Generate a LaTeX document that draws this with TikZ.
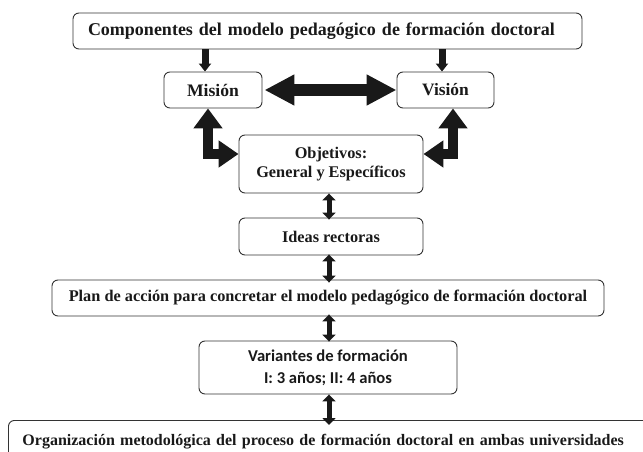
\documentclass[tikz,border=0pt]{standalone}
\usepackage{fontspec}
\setmainfont{Liberation Serif}
\newfontfamily\calibri{Carlito}
\usetikzlibrary{arrows.meta}
\begin{document}
\begin{tikzpicture}[x=1pt,y=-1pt,
  box/.style={draw=black!80, line width=0.9pt, rounded corners=6pt, align=center, inner sep=0pt,
    text=black!90, font=\fontsize{16.3}{19.5}\selectfont\bfseries},
  small/.style={line width=5pt, draw=black!90,
    {Triangle[length=7pt,width=13pt]}-{Triangle[length=7pt,width=13pt]}},
  down/.style={line width=7pt, draw=black!90, -{Triangle[length=8pt,width=12pt]}},
  big/.style={line width=12pt, draw=black!90,
    {Triangle[length=30pt,width=29pt]}-{Triangle[length=30pt,width=29pt]}},
  elbow/.style={line width=10pt, draw=black!90, miter limit=10,
    {Triangle[length=20pt,width=28pt]}-{Triangle[length=20pt,width=26pt]}}
]
\useasboundingbox (0,0) rectangle (643,452);

\node[box, minimum width=509pt, minimum height=36pt, text width=479pt, inner xsep=15pt, align=left,
  font=\fontsize{18}{22}\selectfont\bfseries] (top) at (327.5,31)
  {Componentes del modelo pedagógico de formación doctoral};
\node[box, minimum width=98pt, minimum height=36pt, font=\fontsize{17.6}{21}\selectfont\bfseries] (mision) at (213,90) {Misión};
\node[box, minimum width=97pt, minimum height=36pt, font=\fontsize{17.4}{21}\selectfont\bfseries] (vision) at (445.5,90) {Visión};
\node[box, minimum width=184pt, minimum height=58pt] (obj) at (331,164) {Objetivos:\\General y Específicos};
\node[box, minimum width=184pt, minimum height=37pt] (ideas) at (331,236.5) {Ideas rectoras};
\node[box, minimum width=552pt, minimum height=36pt] (plan) at (328,298)
  {Plan de acción para concretar el modelo pedagógico de formación doctoral};
\node[box, minimum width=258pt, minimum height=53pt, font=\fontsize{16.6}{22}\calibri\bfseries] (var) at (328,367.5)
  {Variantes de formación\\I: 3 años; II: 4 años};
\node[box, anchor=north west, text width=654pt, inner xsep=14pt, minimum height=43pt, align=left,
  font=\fontsize{16}{19.5}\selectfont\bfseries] (org) at (8,420)
  {Organización metodológica del proceso de formación doctoral en ambas universidades};

\coordinate (cl) at (205,0);
\coordinate (cr) at (442,0);
\coordinate (el) at (208,154);
\coordinate (er) at (453,154);
\coordinate (cm) at (329,0);

\draw[down] (top.south -| cl) -- (mision.north -| cl);
\draw[down] (top.south -| cr) -- (vision.north -| cr);
\draw[big] ([xshift=2pt]mision.east) -- (vision.west);
\draw[elbow] (mision.south -| el) |- (obj.west |- el);
\draw[elbow] (vision.south -| er) |- (obj.east |- er);
\draw[small] ([yshift=0pt]obj.south -| cm) -- ([yshift=-2pt]ideas.north -| cm);
\draw[small] ([yshift=1pt]ideas.south -| cm) -- ([yshift=-3pt]plan.north -| cm);
\draw[small] ([yshift=2pt]plan.south -| cm) -- ([yshift=-1pt]var.north -| cm);
\draw[small] ([yshift=0pt]var.south -| cm) -- ([yshift=-5pt]org.north -| cm);
\end{tikzpicture}
\end{document}
